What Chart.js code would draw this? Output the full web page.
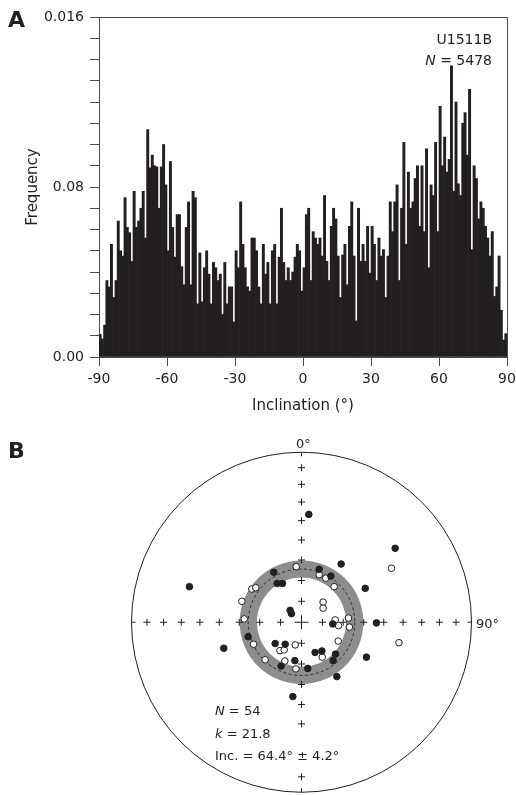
<!DOCTYPE html>
<html><head><meta charset="utf-8">
<script src="https://cdn.jsdelivr.net/npm/chart.js@4.4.1/dist/chart.umd.min.js"></script>
<style>
html,body{margin:0;padding:0;background:#fff;}
body{width:516px;height:795px;position:relative;overflow:hidden;font-family:"DejaVu Sans",sans-serif;color:#231f20;}
canvas{position:absolute;left:0;}
#histo{top:0;}
#net{top:420px;}
.t{position:absolute;white-space:nowrap;line-height:1;}
.b{font-weight:bold;font-size:22px;}
.s14{font-size:14px;}
.s13{font-size:13px;}
</style></head><body>
<canvas id="histo" width="516" height="420"></canvas>
<canvas id="net" width="516" height="375"></canvas>
<div class="t b" style="left:8px;top:8.5px;">A</div>
<div class="t b" style="left:8px;top:439.7px;">B</div>
<div class="t s14" id="site" style="right:24px;top:31.5px;"></div>
<div class="t s14" id="count" style="right:24px;top:52.5px;"></div>
<div class="t s13" style="left:296px;top:437px;">0°</div>
<div class="t s13" style="left:476px;top:617px;">90°</div>
<div class="t s13" id="statN" style="left:215px;top:704px;"></div>
<div class="t s13" id="statK" style="left:215px;top:727.3px;"></div>
<div class="t s13" id="statInc" style="left:215px;top:749px;"></div>
<script>
// ---------- Panel A data ----------
const binStart = -90;
const binWidth = 1;
const frequency = [
 0.00107,0.00085,0.0015,0.0036,0.0033,0.0053,0.0028,0.0036,0.0064,0.005,
 0.00475,0.0075,0.0061,0.00585,0.0045,0.0078,0.0061,0.0064,0.007,0.0078,
 0.0056,0.0107,0.0089,0.0095,0.009,0.00895,0.007,0.00895,0.01,0.0081,
 0.005,0.0092,0.0061,0.0047,0.0067,0.0067,0.00425,0.0034,0.0061,0.0073,
 0.0034,0.0078,0.0075,0.0025,0.0049,0.0026,0.0042,0.005,0.0039,0.0025,
 0.00445,0.0042,0.0036,0.0039,0.002,0.00445,0.0025,0.0033,0.0033,0.00165,
 0.005,0.0042,0.0073,0.0053,0.0042,0.0033,0.0031,0.0056,0.0056,0.005,
 0.0033,0.0025,0.0053,0.0039,0.00445,0.0025,0.005,0.0053,0.0025,0.0047,
 0.007,0.00445,0.0036,0.0042,0.0036,0.004,0.0047,0.0053,0.005,0.0031,
 0.0042,0.0067,0.007,0.0036,0.0059,0.0056,0.0053,0.0056,0.00475,0.0076,
 0.0045,0.0036,0.00615,0.007,0.0065,0.00475,0.0028,0.0048,0.0053,0.0034,
 0.00615,0.0073,0.00475,0.0017,0.007,0.0045,0.0053,0.0045,0.00615,0.00395,
 0.00615,0.0053,0.0036,0.0056,0.00475,0.00505,0.0028,0.00475,0.0073,0.0059,
 0.0073,0.0081,0.0036,0.007,0.0101,0.0053,0.0087,0.007,0.0073,0.0084,
 0.009,0.00615,0.009,0.0059,0.0098,0.0042,0.0081,0.0076,0.0101,0.0059,
 0.0118,0.009,0.01035,0.0087,0.0093,0.0137,0.0078,0.012,0.00815,0.0076,
 0.011,0.0115,0.0095,0.0126,0.00505,0.009,0.0084,0.0065,0.0073,0.007,
 0.00615,0.0056,0.00475,0.0059,0.00285,0.0033,0.00475,0.0022,0.0008,0.0011
];
const xTickValues = [-90, -60, -30, 0, 30, 60, 90];
const yTickValues = [0, 0.008, 0.016];
const yTickText = ['0.00', '0.08', '0.016'];
const siteName = 'U1511B';
const sampleCount = 5478;

// ---------- Panel B data (equal-area projection, unit net: east, north) ----------
const lowerEast  = [0.043,0.551,0.233,-0.659,-0.163,0.104,0.173,-0.143,-0.112,0.375,-0.067,-0.059,0.184,0.441,-0.314,-0.457,-0.155,-0.096,0.080,0.120,0.200,0.186,0.382,-0.039,-0.120,0.037,0.208,-0.051];
const lowerNorth = [0.643,0.441,0.347,0.212,0.298,0.316,0.275,0.231,0.231,0.202,0.071,0.051,-0.010,-0.004,-0.086,-0.155,-0.127,-0.131,-0.180,-0.171,-0.190,-0.229,-0.208,-0.229,-0.261,-0.275,-0.324,-0.443];
const upperEast  = [0.529,-0.031,0.104,0.143,0.192,-0.292,-0.269,-0.351,0.127,0.127,-0.337,0.198,0.218,0.276,0.282,0.573,-0.282,0.216,-0.037,-0.127,-0.102,-0.214,-0.098,0.122,-0.033];
const upperNorth = [0.322,0.331,0.284,0.263,0.212,0.198,0.206,0.125,0.120,0.084,0.020,0.014,-0.020,0.025,-0.029,-0.122,-0.131,-0.112,-0.135,-0.169,-0.165,-0.224,-0.231,-0.208,-0.278];
const netTickInclinations = [80, 70, 60, 50, 40, 30, 20, 10];
const hiddenSouthTicks = [30, 20];
const meanInclination = 64.4;
const alpha95 = 4.2;
const kappa = 21.8;
const siteN = 54;

const INK = '#231f20';
const AXIS = '#4a4a4a';
const FONT = '"DejaVu Sans", sans-serif';

document.getElementById('site').textContent = siteName;
document.getElementById('count').innerHTML = '<i>N</i> = ' + sampleCount;
document.getElementById('statN').innerHTML = '<i>N</i> = ' + siteN;
document.getElementById('statK').innerHTML = '<i>k</i> = ' + kappa.toFixed(1);
document.getElementById('statInc').textContent = 'Inc. = ' + meanInclination.toFixed(1) + '° ± ' + alpha95.toFixed(1) + '°';

// ---------- Panel A chart ----------
const framePlugin = {
  id: 'frame',
  afterDraw(chart) {
    const {ctx, chartArea: a} = chart;
    ctx.save();
    ctx.strokeStyle = AXIS;
    ctx.lineWidth = 1;
    ctx.beginPath();
    ctx.moveTo(Math.round(a.left), Math.round(a.top) + 0.5);
    ctx.lineTo(Math.round(a.right) + 0.5, Math.round(a.top) + 0.5);
    ctx.lineTo(Math.round(a.right) + 0.5, Math.round(a.bottom));
    ctx.stroke();
    ctx.restore();
  }
};

new Chart(document.getElementById('histo'), {
  type: 'bar',
  data: {
    datasets: [{
      data: frequency.map((f, i) => ({x: binStart + binWidth * (i + 0.5), y: f})),
      backgroundColor: INK,
      borderWidth: 0,
      barPercentage: 1,
      categoryPercentage: 1
    }]
  },
  options: {
    responsive: false,
    animation: false,
    devicePixelRatio: 1,
    layout: {padding: {top: 17, right: 9, left: 0, bottom: 0}},
    plugins: {legend: {display: false}, tooltip: {enabled: false}},
    scales: {
      x: {
        type: 'linear', min: -90, max: 90, offset: false,
        afterBuildTicks: s => { s.ticks = xTickValues.map(v => ({value: v})); },
        afterFit: s => { s.height = 63; s.paddingLeft = 0; s.paddingRight = 0; },
        grid: {drawOnChartArea: false, drawTicks: true, tickLength: 9, color: AXIS, offset: false},
        border: {display: true, color: AXIS, width: 1},
        ticks: {padding: 5, color: INK, font: {family: FONT, size: 14}, maxRotation: 0, autoSkip: false,
                callback: v => String(v)},
        title: {display: true, text: 'Inclination (°)', color: INK, font: {family: FONT, size: 15},
                padding: {top: 0, bottom: 5}}
      },
      y: {
        type: 'linear', min: 0, max: 0.016,
        afterBuildTicks: s => {
          const t = [];
          for (let k = 0; k <= 16; k++) t.push({value: k * 0.001});
          s.ticks = t;
        },
        afterFit: s => { s.width = 99; s.paddingTop = 0; s.paddingBottom = 0; },
        grid: {drawOnChartArea: false, drawTicks: true, tickLength: 9, color: AXIS},
        border: {display: true, color: AXIS, width: 1},
        ticks: {padding: 6, color: INK, font: {family: FONT, size: 14}, autoSkip: false,
                callback: v => {
                  const i = yTickValues.findIndex(t => Math.abs(t - v) < 1e-7);
                  return i >= 0 ? yTickText[i] : '';
                }},
        title: {display: true, text: 'Frequency', color: INK, font: {family: FONT, size: 15},
                padding: {top: 24, bottom: 0}}
      }
    }
  },
  plugins: [framePlugin]
});

// ---------- Panel B chart ----------
function eqArea(inc) {
  return Math.SQRT2 * Math.sin((90 - inc) / 2 * Math.PI / 180);
}

const netPlugin = {
  id: 'net',
  beforeDatasetsDraw(chart) {
    const {ctx, scales: {x, y}} = chart;
    const cx = x.getPixelForValue(0), cy = y.getPixelForValue(0);
    const R = x.getPixelForValue(1) - cx;
    ctx.save();
    const rIn = eqArea(meanInclination + alpha95) * R;
    const rOut = eqArea(meanInclination - alpha95) * R;
    ctx.beginPath();
    ctx.arc(cx, cy, rOut, 0, Math.PI * 2);
    ctx.arc(cx, cy, rIn, 0, Math.PI * 2, true);
    ctx.fillStyle = '#8d8d8d';
    ctx.fill();
    ctx.beginPath();
    ctx.setLineDash([3, 2.5]);
    ctx.lineWidth = 0.9;
    ctx.strokeStyle = INK;
    ctx.arc(cx, cy, eqArea(meanInclination) * R, 0, Math.PI * 2);
    ctx.stroke();
    ctx.setLineDash([]);
    ctx.lineWidth = 1;
    const cross = (px, py, h) => {
      ctx.moveTo(px - h, py); ctx.lineTo(px + h, py);
      ctx.moveTo(px, py - h); ctx.lineTo(px, py + h);
    };
    ctx.beginPath();
    netTickInclinations.forEach(inc => {
      const r = eqArea(inc) * R;
      cross(cx, cy - r, 3.5);
      if (!hiddenSouthTicks.includes(inc)) cross(cx, cy + r, 3.5);
      cross(cx - r, cy, 3.5);
      cross(cx + r, cy, 3.5);
    });
    cross(cx, cy, 7);
    ctx.stroke();
    ctx.beginPath();
    ctx.arc(cx, cy, R, 0, Math.PI * 2);
    ctx.moveTo(cx, cy - R); ctx.lineTo(cx, cy - R + 4);
    ctx.moveTo(cx + R, cy); ctx.lineTo(cx + R - 4, cy);
    ctx.moveTo(cx - R, cy); ctx.lineTo(cx - R + 4, cy);
    ctx.moveTo(cx, cy + R); ctx.lineTo(cx, cy + R - 4);
    ctx.stroke();
    ctx.restore();
  }
};

new Chart(document.getElementById('net'), {
  type: 'scatter',
  data: {
    datasets: [
      {data: lowerEast.map((e, i) => ({x: e, y: lowerNorth[i]})),
       pointRadius: 3.3, backgroundColor: INK, borderColor: INK, borderWidth: 1},
      {data: upperEast.map((e, i) => ({x: e, y: upperNorth[i]})),
       pointRadius: 3.3, backgroundColor: '#ffffff', borderColor: INK, borderWidth: 1}
    ]
  },
  options: {
    responsive: false,
    animation: false,
    devicePixelRatio: 1,
    layout: {padding: {left: 131.5, right: 44.5, top: 34.5, bottom: 0.5}},
    plugins: {legend: {display: false}, tooltip: {enabled: false}},
    scales: {
      x: {type: 'linear', display: false, min: -1, max: 1},
      y: {type: 'linear', display: false, min: -1, max: 1}
    }
  },
  plugins: [netPlugin]
});
</script>
</body></html>
